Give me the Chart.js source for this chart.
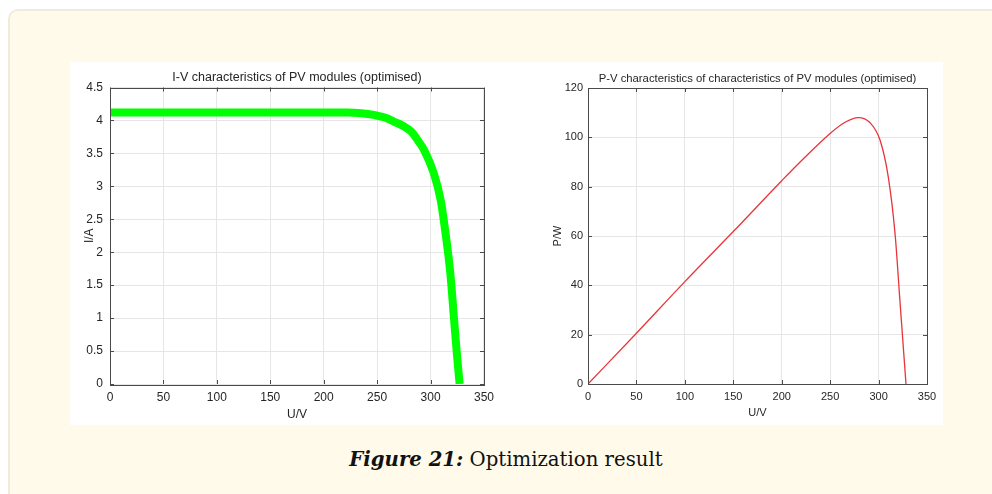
<!DOCTYPE html>
<html lang="en">
<head>
<meta charset="UTF-8">
<title>Optimization result</title>
<script src="https://cdn.jsdelivr.net/npm/chart.js"></script>
<style>
    body {
        margin: 0;
        width: 992px;
        height: 494px;
        overflow: hidden;
        position: relative;
        background: #ffffff;
        font-family: 'Liberation Sans', Arial, sans-serif;
    }
    .panel {
        position: absolute;
        left: 8px;
        top: 9px;
        width: 1010px;
        height: 510px;
        background: #fffae9;
        border: 2px solid #efebdf;
        border-radius: 10px;
    }
    .figure {
        position: absolute;
        left: 70px;
        top: 62px;
        width: 873px;
        height: 363px;
        background: #ffffff;
    }
    .chart-box {
        position: absolute;
        top: 62px;
        height: 363px;
    }
    #ivBox { left: 70px; width: 430px; }
    #pvBox { left: 520px; width: 423px; }
    .caption {
        position: absolute;
        left: 0;
        width: 1012px;
        top: 448px;
        text-align: center;
        font-family: 'DejaVu Serif', 'Liberation Serif', serif;
        font-size: 19.7px;
        color: #111;
    }
</style>
</head>
<body>

<div class="panel"></div>
<div class="figure"></div>
<div class="chart-box" id="ivBox"><canvas id="ivChart"></canvas></div>
<div class="chart-box" id="pvBox"><canvas id="pvChart"></canvas></div>
<div class="caption"><b><i>Figure 21:</i></b> Optimization result</div>

<script>
    // I-V curve
    const ivVoltage = [0, 50, 100, 150, 200, 222, 235, 248, 258, 266, 274, 282, 288, 294, 303, 309.5, 314, 318.5, 321.9, 324.4, 327.2];
    const ivCurrent = [4.12, 4.12, 4.12, 4.12, 4.12, 4.12, 4.11, 4.08, 4.04, 3.98, 3.92, 3.83, 3.70, 3.55, 3.20, 2.79, 2.29, 1.68, 1.0, 0.5, 0];

    // P-V curve
    const pvVoltage = [0, 50, 100, 150, 200, 219, 250, 265, 279, 291, 301.5, 310, 317, 322, 326, 328.3];
    const pvPower = [0, 20.6, 41.5, 61.8, 82.4, 90.0, 101.6, 106, 108, 106, 98.9, 84, 61, 34, 12.4, 0];

    // axis ranges / tick steps
    const voltageTicks = { min: 0, max: 350, step: 50 };
    const currentTicks = { min: 0, max: 4.5, step: 0.5 };
    const powerTicks = { min: 0, max: 120, step: 20 };

    const textColor = '#262626';
    const gridColor = '#e6e6e6';
    const fontFamily = "'Liberation Sans', Arial, sans-serif";

    // matlab style box with inward ticks on all sides, title centred on the axes
    const matlabBox = {
        id: 'matlabBox',
        afterDraw(chart, args, opts) {
            const { ctx, chartArea: a, scales } = chart;
            const len = 4;
            ctx.save();
            ctx.strokeStyle = '#4a4a4a';
            ctx.lineWidth = 1;
            ctx.beginPath();
            scales.x.ticks.forEach(t => {
                const px = Math.round(scales.x.getPixelForValue(t.value)) + 0.5;
                ctx.moveTo(px, a.bottom); ctx.lineTo(px, a.bottom - len);
                ctx.moveTo(px, a.top); ctx.lineTo(px, a.top + len);
            });
            scales.y.ticks.forEach(t => {
                const py = Math.round(scales.y.getPixelForValue(t.value)) + 0.5;
                ctx.moveTo(a.left, py); ctx.lineTo(a.left + len, py);
                ctx.moveTo(a.right, py); ctx.lineTo(a.right - len, py);
            });
            ctx.stroke();
            ctx.strokeRect(Math.round(a.left) + 0.5, Math.round(a.top) + 0.5,
                Math.round(a.right - a.left), Math.round(a.bottom - a.top));

            ctx.fillStyle = textColor;
            ctx.font = opts.size + 'px ' + fontFamily;
            ctx.textAlign = 'center';
            ctx.textBaseline = 'middle';
            ctx.fillText(opts.text, (a.left + a.right) / 2, opts.y);
            ctx.restore();
        }
    };

    const plainNumber = v => String(Number(v.toFixed(2)));

    function makeChart(id, cfg) {
        const points = cfg.xs.map((x, i) => ({ x: x, y: cfg.ys[i] }));
        const font = size => ({ family: fontFamily, size: size, weight: 'normal' });
        return new Chart(document.getElementById(id), {
            type: 'scatter',
            data: {
                datasets: [{
                    data: points,
                    showLine: true,
                    borderColor: cfg.color,
                    borderWidth: cfg.width,
                    pointRadius: 0,
                    cubicInterpolationMode: 'monotone',
                    borderCapStyle: 'butt'
                }]
            },
            options: {
                responsive: true,
                maintainAspectRatio: false,
                animation: false,
                devicePixelRatio: 1,
                layout: { padding: { left: 0, right: cfg.padRight, top: cfg.padTop, bottom: 0 } },
                plugins: {
                    legend: { display: false },
                    tooltip: { enabled: false },
                    matlabBox: { text: cfg.title, size: cfg.titleSize, y: cfg.titleY }
                },
                scales: {
                    x: {
                        type: 'linear',
                        min: voltageTicks.min,
                        max: voltageTicks.max,
                        afterFit: s => { s.height = 41; },
                        grid: { color: gridColor, drawTicks: false },
                        border: { display: false },
                        ticks: {
                            stepSize: voltageTicks.step,
                            padding: 6,
                            color: textColor,
                            font: font(cfg.textSize),
                            callback: plainNumber
                        },
                        title: {
                            display: true,
                            text: 'U/V',
                            color: textColor,
                            font: font(cfg.textSize),
                            padding: { top: 0, bottom: cfg.xTitlePad }
                        }
                    },
                    y: {
                        min: cfg.yTicks.min,
                        max: cfg.yTicks.max,
                        afterFit: s => { s.width = cfg.yWidth; },
                        grid: { color: gridColor, drawTicks: false },
                        border: { display: false },
                        ticks: {
                            stepSize: cfg.yTicks.step,
                            padding: cfg.yLabelPad,
                            color: textColor,
                            font: font(cfg.textSize),
                            callback: plainNumber
                        },
                        title: {
                            display: true,
                            text: cfg.yLabel,
                            color: textColor,
                            font: font(cfg.textSize),
                            padding: { top: cfg.yTitlePad, bottom: 0 }
                        }
                    }
                }
            },
            plugins: [matlabBox]
        });
    }

    makeChart('ivChart', {
        xs: ivVoltage, ys: ivCurrent,
        color: '#00ff00', width: 8,
        title: 'I-V characteristics of PV modules (optimised)',
        yLabel: 'I/A', yTicks: currentTicks,
        titleSize: 12.5, textSize: 12, titleY: 15.5, padTop: 25.5,
        padRight: 13, yWidth: 40,
        yLabelPad: 7, yTitlePad: 12.8, xTitlePad: 3.5
    });

    makeChart('pvChart', {
        xs: pvVoltage, ys: pvPower,
        color: '#e8353a', width: 1.3,
        title: 'P-V characteristics of characteristics of PV modules (optimised)',
        yLabel: 'P/W', yTicks: powerTicks,
        titleSize: 11.3, textSize: 11, titleY: 16.5, padTop: 26,
        padRight: 16, yWidth: 68,
        yLabelPad: 5, yTitlePad: 31.4, xTitlePad: 5.5
    });
</script>

</body>
</html>
